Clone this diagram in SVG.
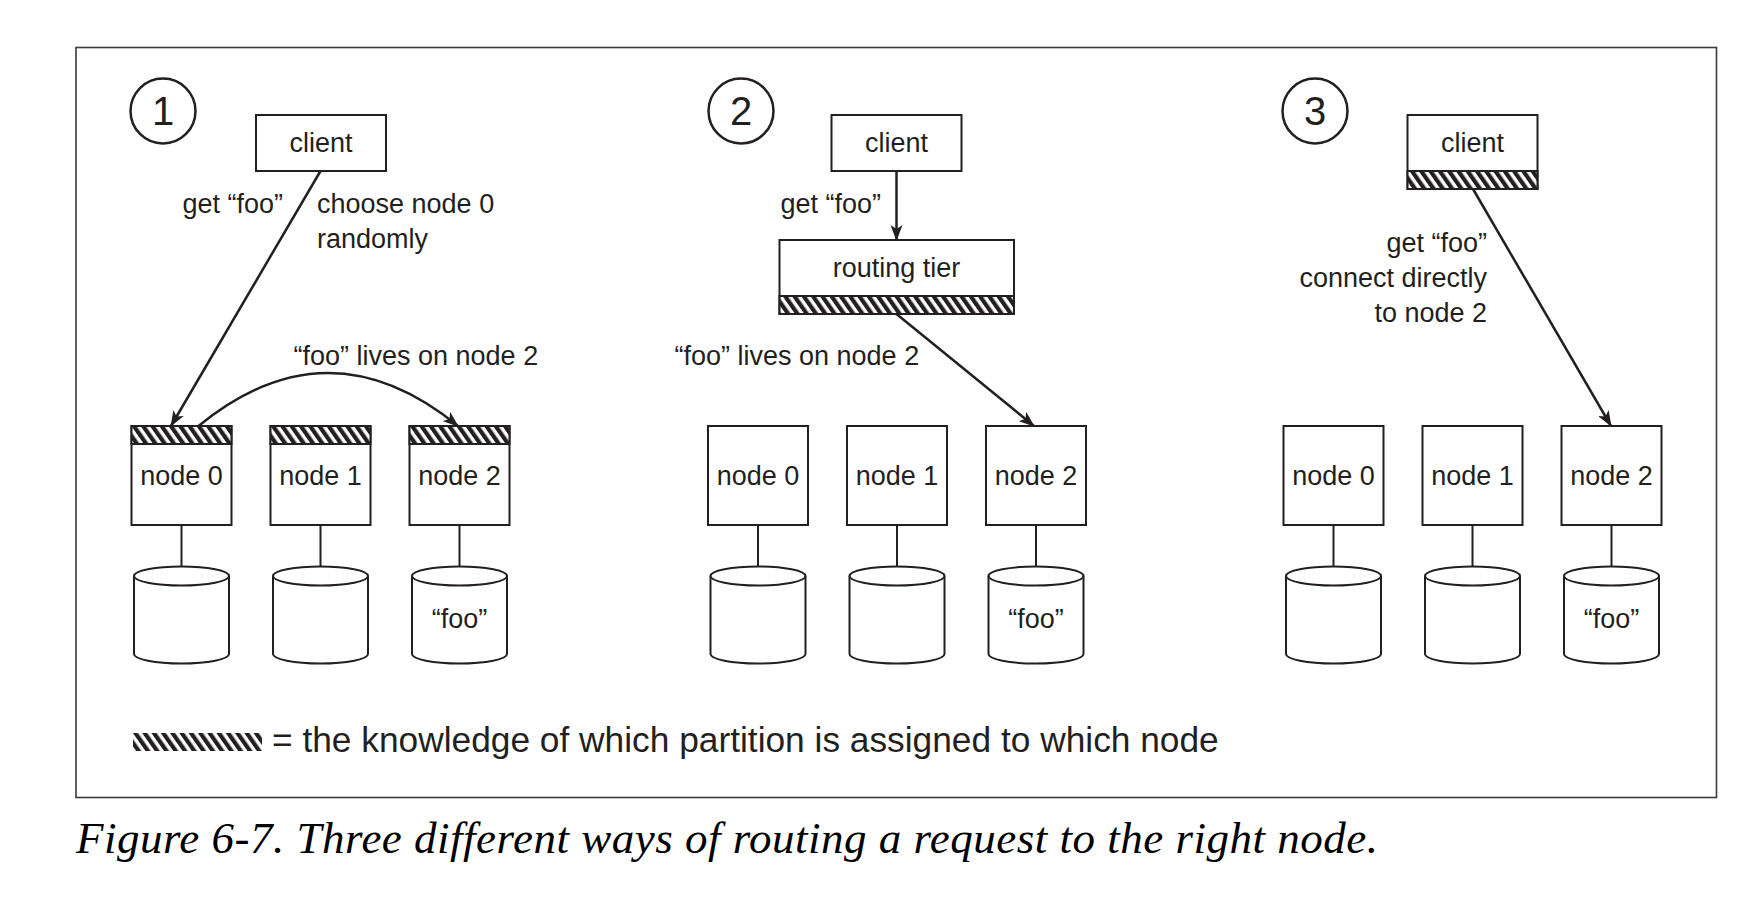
<svg xmlns="http://www.w3.org/2000/svg" width="1760" height="898" viewBox="0 0 1760 898">
<defs>
<style>
.box{fill:#fff;stroke:#231f20;stroke-width:2}
.hatch{fill:url(#hatch);stroke:#231f20;stroke-width:2}
.lbl{font-family:"Liberation Sans",Arial,sans-serif;font-size:27px;fill:#231f20}
.mid{text-anchor:middle}
.end{text-anchor:end}
.num{font-family:"Liberation Sans",Arial,sans-serif;font-size:40px;fill:#231f20;text-anchor:middle}
.circ{fill:none;stroke:#231f20;stroke-width:2.5}
.arrow{fill:none;stroke:#231f20;stroke-width:2.5;marker-end:url(#arr)}
.link{fill:none;stroke:#231f20;stroke-width:2}
.cyl{fill:#fff;stroke:#231f20;stroke-width:2}
</style>
<pattern id="hatch" patternUnits="userSpaceOnUse" width="7.6" height="8" patternTransform="rotate(-35)">
<rect width="7.6" height="8" fill="#fff"/>
<rect width="4.2" height="8" fill="#231f20"/>
</pattern>
<marker id="arr" viewBox="0 0 16 12" refX="15" refY="6" markerWidth="16" markerHeight="12" markerUnits="userSpaceOnUse" orient="auto">
<path d="M0,0 L16,6 L0,12 L4,6 z" fill="#231f20"/>
</marker>
</defs>
<rect width="1760" height="898" fill="#fff"/>
<rect id="frame" x="76" y="47.5" width="1640.5" height="750" fill="none" stroke="#3a3a3a" stroke-width="1.6"/>

<g id="connectors">
<line class="arrow" x1="320.5" y1="171" x2="171" y2="426"/>
<path class="arrow" d="M198.5,426 Q328,320 458,426"/>
<line class="arrow" x1="896.5" y1="171" x2="896.5" y2="240"/>
<line class="arrow" x1="896.5" y1="314" x2="1034" y2="426"/>
<line class="arrow" x1="1473" y1="189" x2="1611" y2="426"/>
<line class="link" x1="181.5" y1="525" x2="181.5" y2="566.5"/>
<line class="link" x1="320.5" y1="525" x2="320.5" y2="566.5"/>
<line class="link" x1="459.5" y1="525" x2="459.5" y2="566.5"/>
<line class="link" x1="758" y1="525" x2="758" y2="566.5"/>
<line class="link" x1="897" y1="525" x2="897" y2="566.5"/>
<line class="link" x1="1036" y1="525" x2="1036" y2="566.5"/>
<line class="link" x1="1333.5" y1="525" x2="1333.5" y2="566.5"/>
<line class="link" x1="1472.5" y1="525" x2="1472.5" y2="566.5"/>
<line class="link" x1="1611.5" y1="525" x2="1611.5" y2="566.5"/>
</g>

<!-- Panel 1 -->
<g id="p1-marker"><circle class="circ" cx="163" cy="111" r="32.5"/><text class="num" x="163" y="125">1</text></g>
<g id="p1-client"><rect class="box" x="256" y="115" width="130" height="56"/><text class="lbl mid" x="321" y="152">client</text></g>
<g id="p1-labels">
<text class="lbl" x="182.5" y="213">get “foo”</text>
<text class="lbl" x="317" y="213">choose node 0</text>
<text class="lbl" x="317" y="248">randomly</text>
<text class="lbl" x="293.5" y="365">“foo” lives on node 2</text>
</g>
<g id="p1-node0"><rect class="box" x="131.5" y="426" width="100" height="99"/><rect class="hatch" x="131.5" y="426" width="100" height="18"/><text class="lbl mid" x="181.5" y="485">node 0</text></g>
<g id="p1-node1"><rect class="box" x="270.5" y="426" width="100" height="99"/><rect class="hatch" x="270.5" y="426" width="100" height="18"/><text class="lbl mid" x="320.5" y="485">node 1</text></g>
<g id="p1-node2"><rect class="box" x="409.5" y="426" width="100" height="99"/><rect class="hatch" x="409.5" y="426" width="100" height="18"/><text class="lbl mid" x="459.5" y="485">node 2</text></g>
<g id="p1-db0"><path class="cyl" d="M134,576 V654 A47.5,9.5 0 0 0 229,654 V576"/><ellipse class="cyl" cx="181.5" cy="576" rx="47.5" ry="9.5"/></g>
<g id="p1-db1"><path class="cyl" d="M273,576 V654 A47.5,9.5 0 0 0 368,654 V576"/><ellipse class="cyl" cx="320.5" cy="576" rx="47.5" ry="9.5"/></g>
<g id="p1-db2"><path class="cyl" d="M412,576 V654 A47.5,9.5 0 0 0 507,654 V576"/><ellipse class="cyl" cx="459.5" cy="576" rx="47.5" ry="9.5"/><text class="lbl mid" x="459.5" y="628">“foo”</text></g>

<!-- Panel 2 -->
<g id="p2-marker"><circle class="circ" cx="741" cy="111" r="32.5"/><text class="num" x="741" y="125">2</text></g>
<g id="p2-client"><rect class="box" x="831.5" y="115" width="130" height="56"/><text class="lbl mid" x="896.5" y="152">client</text></g>
<g id="p2-routing"><rect class="box" x="779.5" y="240" width="234.5" height="74"/><rect class="hatch" x="779.5" y="296" width="234.5" height="18"/><text class="lbl mid" x="896.5" y="277">routing tier</text></g>
<g id="p2-labels">
<text class="lbl" x="780.5" y="213">get “foo”</text>
<text class="lbl" x="674.5" y="365">“foo” lives on node 2</text>
</g>
<g id="p2-node0"><rect class="box" x="708" y="426" width="100" height="99"/><text class="lbl mid" x="758" y="485">node 0</text></g>
<g id="p2-node1"><rect class="box" x="847" y="426" width="100" height="99"/><text class="lbl mid" x="897" y="485">node 1</text></g>
<g id="p2-node2"><rect class="box" x="986" y="426" width="100" height="99"/><text class="lbl mid" x="1036" y="485">node 2</text></g>
<g id="p2-db0"><path class="cyl" d="M710.5,576 V654 A47.5,9.5 0 0 0 805.5,654 V576"/><ellipse class="cyl" cx="758" cy="576" rx="47.5" ry="9.5"/></g>
<g id="p2-db1"><path class="cyl" d="M849.5,576 V654 A47.5,9.5 0 0 0 944.5,654 V576"/><ellipse class="cyl" cx="897" cy="576" rx="47.5" ry="9.5"/></g>
<g id="p2-db2"><path class="cyl" d="M988.5,576 V654 A47.5,9.5 0 0 0 1083.5,654 V576"/><ellipse class="cyl" cx="1036" cy="576" rx="47.5" ry="9.5"/><text class="lbl mid" x="1036" y="628">“foo”</text></g>

<!-- Panel 3 -->
<g id="p3-marker"><circle class="circ" cx="1315" cy="111" r="32.5"/><text class="num" x="1315" y="125">3</text></g>
<g id="p3-client"><rect class="box" x="1407.5" y="115" width="130" height="74"/><rect class="hatch" x="1407.5" y="171" width="130" height="18"/><text class="lbl mid" x="1472.5" y="152">client</text></g>
<g id="p3-labels">
<text class="lbl end" x="1487" y="252">get “foo”</text>
<text class="lbl end" x="1487" y="287">connect directly</text>
<text class="lbl end" x="1487" y="322">to node 2</text>
</g>
<g id="p3-node0"><rect class="box" x="1283.5" y="426" width="100" height="99"/><text class="lbl mid" x="1333.5" y="485">node 0</text></g>
<g id="p3-node1"><rect class="box" x="1422.5" y="426" width="100" height="99"/><text class="lbl mid" x="1472.5" y="485">node 1</text></g>
<g id="p3-node2"><rect class="box" x="1561.5" y="426" width="100" height="99"/><text class="lbl mid" x="1611.5" y="485">node 2</text></g>
<g id="p3-db0"><path class="cyl" d="M1286,576 V654 A47.5,9.5 0 0 0 1381,654 V576"/><ellipse class="cyl" cx="1333.5" cy="576" rx="47.5" ry="9.5"/></g>
<g id="p3-db1"><path class="cyl" d="M1425,576 V654 A47.5,9.5 0 0 0 1520,654 V576"/><ellipse class="cyl" cx="1472.5" cy="576" rx="47.5" ry="9.5"/></g>
<g id="p3-db2"><path class="cyl" d="M1564,576 V654 A47.5,9.5 0 0 0 1659,654 V576"/><ellipse class="cyl" cx="1611.5" cy="576" rx="47.5" ry="9.5"/><text class="lbl mid" x="1611.5" y="628">“foo”</text></g>

<!-- Legend -->
<g id="legend">
<rect x="133" y="733" width="129" height="18" fill="url(#hatch)"/>
<text x="272" y="752" font-family="'Liberation Sans',Arial,sans-serif" font-size="35.3" fill="#231f20">= the knowledge of which partition is assigned to which node</text>
</g>

<text id="caption" x="76" y="853" font-family="'Liberation Serif','Times New Roman',serif" font-style="italic" font-size="45" fill="#000" textLength="1302" lengthAdjust="spacing">Figure 6-7. Three different ways of routing a request to the right node.</text>
</svg>
